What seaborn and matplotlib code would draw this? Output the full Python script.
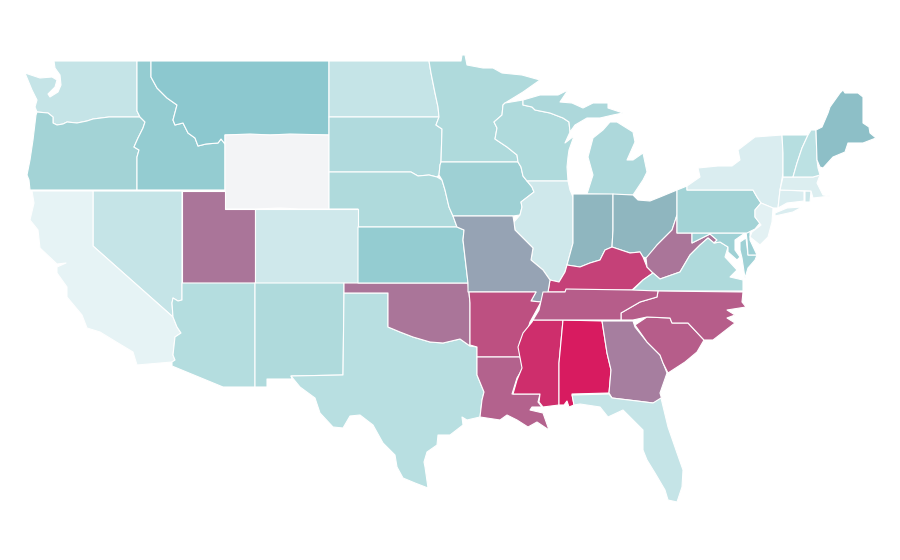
import matplotlib
matplotlib.use("Agg")
import matplotlib.pyplot as plt
import pandas as pd
import seaborn as sns

# outlines, in image pixels
WA = [(54,61),(137,61),(137,111),(140,117),(109,117),(93,119),(87,121),(77,123),(67,122),(63,124),(57,125),(53,123),(53,117),(48,113),(37,112),(35,107),(37,100),(32,90),(25,73),(40,78),(52,77),(57,80),(55,87),(48,94),(50,97),(58,92),(61,85),(60,75),(55,68)]
OR = [(37,112),(48,113),(53,117),(53,123),(57,125),(63,124),(67,122),(77,123),(87,121),(93,119),(109,117),(140,117),(145,122),(143,128),(138,138),(134,147),(139,150),(137,157),(137,190),(30,190),(29,180),(27,175),(30,160),(33,140),(36,115)]
ID = [(137,61),(151,61),(151,77),(157,88),(167,98),(177,105),(173,120),(175,125),(183,123),(188,133),(195,138),(198,146),(206,144),(218,143),(221,139),(225,144),(225,190),(137,190),(137,157),(139,150),(134,147),(138,138),(143,128),(145,122),(140,117),(137,111)]
MT = [(151,61),(329,61),(329,135),(225,135),(225,144),(221,139),(218,143),(206,144),(198,146),(195,138),(188,133),(183,123),(175,125),(173,120),(177,105),(167,98),(157,88),(151,77)]
WY = [(225,135),(250,134),(270,135),(290,134),(329,135),(329,209),(300,209),(280,208),(255,209),(225,209)]
ND = [(329,61),(429,61),(431,73),(435,93),(438,107),(439,117),(329,117)]
SD = [(329,117),(439,117),(436,125),(442,129),(441,162),(440,165),(439,175),(437,177),(429,175),(418,176),(411,172),(329,172)]
NE = [(329,172),(411,172),(418,176),(429,175),(437,177),(442,180),(445,190),(449,207),(453,216),(457,227),(358,227),(358,209),(329,209)]
MN = [(429,61),(461,61),(462,55),(465,55),(467,65),(483,68),(493,68),(502,73),(522,75),(540,80),(523,92),(505,103),(503,105),(502,115),(494,122),(497,128),(495,139),(507,147),(517,155),(518,162),(441,162),(442,129),(436,125),(439,117),(438,107),(435,93),(431,73)]
IA = [(441,162),(518,162),(521,167),(523,176),(527,181),(532,187),(534,192),(521,202),(522,207),(520,215),(513,216),(453,216),(449,207),(445,190),(442,180),(439,175),(440,165)]
WI = [(505,103),(523,100),(523,105),(532,107),(535,110),(550,113),(563,118),(569,122),(570,132),(565,143),(574,136),(569,150),(568,157),(567,167),(568,181),(527,181),(523,176),(521,167),(518,162),(517,155),(507,147),(495,139),(497,128),(494,122),(502,115),(503,105)]
MI_UP = [(523,100),(540,95),(558,95),(568,90),(560,102),(572,103),(583,108),(593,103),(608,103),(608,108),(623,113),(613,115),(600,118),(587,118),(575,125),(570,132),(569,122),(563,118),(550,113),(535,110),(532,107),(523,105)]
MI_LOW = [(587,194),(593,175),(588,157),(593,138),(603,130),(610,122),(617,122),(633,132),(635,142),(627,160),(633,160),(643,153),(647,172),(643,180),(633,195)]
IL = [(527,181),(568,181),(570,190),(573,197),(573,243),(567,265),(565,272),(559,282),(550,280),(543,270),(531,260),(533,248),(515,230),(514,222),(520,215),(522,207),(521,202),(534,192),(532,187)]
IN = [(573,194),(613,194),(613,230),(612,247),(605,250),(600,260),(590,263),(580,267),(567,265),(573,243)]
OH = [(613,194),(633,195),(638,200),(650,201),(660,197),(677,190),(677,215),(672,230),(657,245),(650,255),(646,258),(643,257),(640,252),(630,253),(612,247),(613,230)]
KY = [(612,247),(630,253),(640,252),(643,257),(647,267),(653,273),(643,280),(632,290),(567,290),(565,292),(548,292),(550,280),(559,282),(565,272),(567,265),(580,267),(590,263),(600,260),(605,250)]
WV = [(677,215),(677,233),(692,233),(692,243),(710,234),(717,240),(714,243),(708,238),(700,245),(690,255),(680,272),(660,279),(653,273),(647,267),(646,258),(657,245),(672,230)]
VA = [(632,291),(643,280),(653,273),(660,279),(680,272),(690,255),(700,245),(708,238),(714,243),(720,242),(728,247),(725,257),(737,270),(730,277),(743,280),(743,291)]
MD = [(692,233),(745,233),(735,240),(735,250),(740,257),(737,260),(728,252),(728,247),(720,242),(714,243),(717,240),(710,234),(692,243)]
MD_EAST = [(740,242),(746,238),(748,255),(757,255),(755,260),(748,268),(745,278),(742,258),(740,250)]
DE = [(746,232),(750,231),(750,240),(757,255),(748,255),(747,240)]
PA = [(677,190),(687,186),(687,190),(753,190),(757,197),(761,203),(755,210),(755,217),(760,223),(755,229),(747,233),(677,233)]
NY = [(687,186),(700,177),(698,168),(718,166),(732,166),(740,160),(738,150),(755,137),(782,135),(783,153),(783,173),(780,190),(778,208),(773,208),(761,203),(757,197),(753,190),(687,190)]
LONG_ISLAND = [(775,213),(787,208),(802,207),(793,212),(775,216)]
NJ = [(761,203),(773,208),(772,222),(768,237),(760,245),(750,237),(752,232),(761,225),(755,217),(755,210)]
CT = [(780,190),(804,191),(804,201),(787,203),(778,208)]
RI = [(805,191),(811,191),(810,202),(805,202)]
MA = [(783,177),(813,177),(820,175),(817,183),(823,195),(830,196),(822,197),(813,198),(811,191),(780,190)]
VT = [(782,135),(808,135),(802,148),(797,163),(793,177),(783,177),(783,153)]
NH = [(808,135),(811,130),(816,130),(817,160),(818,168),(820,175),(813,177),(793,177),(797,163),(802,148)]
ME = [(816,130),(822,127),(828,113),(830,107),(840,93),(843,90),(845,93),(858,93),(863,97),(863,123),(869,127),(870,133),(876,138),(863,143),(848,143),(845,152),(833,157),(823,168),(820,167),(817,160)]
NV = [(93,191),(182,191),(182,300),(178,301),(173,298),(172,303),(173,317),(93,246)]
CA = [(32,191),(93,191),(93,246),(173,317),(177,327),(181,333),(175,337),(173,355),(175,360),(172,362),(137,365),(133,352),(118,343),(100,332),(87,328),(82,315),(67,297),(67,287),(57,273),(57,267),(66,263),(57,264),(40,248),(38,230),(30,220),(34,203)]
UT = [(182,191),(225,191),(225,209),(255,209),(255,283),(182,283)]
CO = [(255,209),(358,209),(358,283),(255,283)]
AZ = [(182,283),(255,283),(255,387),(223,387),(172,366),(172,362),(175,360),(173,355),(175,337),(181,333),(177,327),(173,317),(172,303),(173,298),(178,301),(182,300)]
NM = [(255,283),(344,283),(344,293),(343,375),(291,376),(292,379),(267,379),(267,387),(255,387)]
TX = [(344,293),(388,293),(388,327),(400,332),(413,337),(430,342),(443,343),(460,339),(470,346),(477,347),(477,375),(484,392),(482,400),(480,417),(467,420),(462,417),(463,425),(450,435),(438,435),(437,445),(427,452),(424,462),(425,467),(428,488),(415,483),(403,478),(397,467),(395,455),(383,443),(373,425),(360,415),(350,416),(343,428),(333,427),(320,413),(315,398),(300,387),(291,376),(343,375)]
OK = [(344,283),(468,283),(470,303),(470,345),(470,346),(460,339),(443,343),(430,342),(413,337),(400,332),(388,327),(388,293),(344,293)]
KS = [(358,227),(457,227),(464,230),(463,240),(468,283),(358,283)]
MO = [(453,216),(513,216),(514,222),(515,230),(533,248),(531,260),(543,270),(550,280),(548,292),(541,302),(531,301),(536,292),(468,292),(468,283),(463,240),(464,230),(457,227)]
AR = [(469,292),(536,292),(531,301),(541,302),(535,313),(530,322),(527,332),(520,342),(520,357),(477,357),(477,347),(470,345),(470,303)]
LA = [(477,357),(520,357),(523,368),(517,378),(512,394),(540,394),(538,402),(542,407),(532,407),(530,410),(543,413),(549,430),(537,422),(528,427),(517,420),(507,415),(500,420),(480,417),(482,400),(484,392),(477,375)]
MS = [(533,320),(563,320),(559,363),(559,405),(543,407),(539,402),(540,394),(513,394),(517,380),(522,368),(518,347),(523,333),(532,322)]
AL = [(563,320),(602,321),(607,353),(611,370),(609,393),(572,394),(574,405),(569,407),(567,401),(564,405),(559,405),(559,363)]
GA = [(602,321),(633,321),(635,327),(647,342),(660,355),(667,373),(660,393),(662,400),(653,403),(637,401),(612,398),(609,393),(611,370),(607,353)]
SC = [(635,325),(647,317),(670,318),(672,323),(688,323),(704,340),(697,352),(685,362),(668,373),(663,363),(660,355),(647,342)]
NC = [(658,291),(743,292),(742,302),(746,307),(727,310),(735,315),(727,318),(735,323),(713,340),(704,340),(688,323),(672,323),(670,318),(647,317),(633,320),(621,320),(621,313),(640,302),(657,297)]
TN = [(543,292),(565,292),(566,289),(632,290),(658,291),(657,297),(640,302),(621,313),(621,320),(533,320),(539,310)]
FL = [(572,395),(609,394),(612,398),(637,401),(653,403),(661,398),(668,427),(677,453),(683,470),(682,487),(677,502),(668,500),(665,490),(655,473),(647,460),(643,450),(643,430),(633,420),(623,410),(608,417),(600,407),(580,404),(574,405)]

state_parts = [WA, OR, ID, MT, WY, ND, SD, NE, MN, IA, WI, MI_UP, MI_LOW, IL, IN, OH, KY, WV, VA, MD, MD_EAST, DE, PA, NY, LONG_ISLAND, NJ, CT, RI, MA, VT, NH, ME, NV, CA, UT, CO, AZ, NM, TX, OK, KS, MO, AR, LA, MS, AL, GA, SC, NC, TN, FL]
state_names = ["WA", "OR", "ID", "MT", "WY", "ND", "SD", "NE", "MN", "IA", "WI", "MI", "MI", "IL", "IN", "OH", "KY", "WV", "VA", "MD", "MD", "DE", "PA", "NY", "NY", "NJ", "CT", "RI", "MA", "VT", "NH", "ME", "NV", "CA", "UT", "CO", "AZ", "NM", "TX", "OK", "KS", "MO", "AR", "LA", "MS", "AL", "GA", "SC", "NC", "TN", "FL"]
# values estimated from the fill colours, WY has no data
state_values = [18, 36, 45, 50, None, 18, 29, 30, 30, 39, 30, 31, 31, 13, 62, 62, 92, 81, 30, 38, 38, 40, 36, 7, 7, 2, 7, 15, 6, 26, 23, 56, 18, 0, 81, 13, 27, 30, 25, 81, 45, 69, 89, 85, 96, 100, 79, 86, 86, 86, 18]
palette_stops = ["#e6f3f5", "#d0e8eb", "#b8dfe1", "#a0d1d5", "#8cc8cf", "#8fb5be", "#9c92ab", "#b95786", "#d81b60"]
missing_color = "#f3f4f6"

df = pd.DataFrame({"state": state_names, "value": state_values, "outline": state_parts})

sns.set_theme(style="white")
cmap = sns.blend_palette(palette_stops, as_cmap=True)

fig = plt.figure(figsize=(9, 5.6), dpi=100)
ax = fig.add_axes([0, 0, 1, 1])
for _, row in df.iterrows():
    color = missing_color if pd.isna(row["value"]) else cmap(row["value"] / 100)
    xs, ys = zip(*row["outline"])
    ax.fill(xs, ys, facecolor=color, edgecolor="white", linewidth=0.8, joinstyle="round")

ax.set_xlim(0, 900)
ax.set_ylim(560, 0)
ax.set_axis_off()
sns.despine(ax=ax, left=True, bottom=True)
fig.savefig("out.png", dpi=100)
